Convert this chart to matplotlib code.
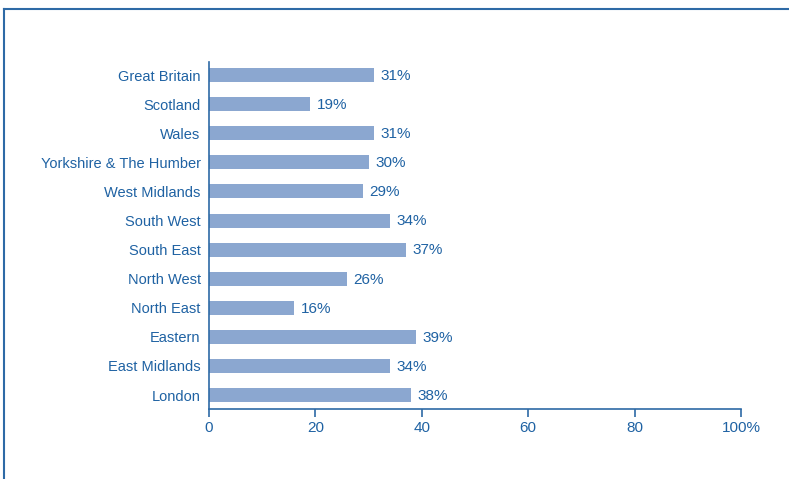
import matplotlib
matplotlib.use('Agg')
from matplotlib import pyplot as plt
from matplotlib.lines import Line2D

# regions, bottom to top as drawn
regions = ['London', 'East Midlands', 'Eastern', 'North East', 'North West',
           'South East', 'South West', 'West Midlands', 'Yorkshire & The Humber',
           'Wales', 'Scotland', 'Great Britain']
shares = [38, 34, 39, 16, 26, 37, 34, 29, 30, 31, 19, 31]
x_ticks = [0, 20, 40, 60, 80, 100]
x_tick_labels = ['0', '20', '40', '60', '80', '100%']

text_blue = '#1f62a3'
line_blue = '#2e6aa6'
bar_blue = '#8ba7d0'

plt.rcParams['font.family'] = ['Liberation Sans', 'DejaVu Sans']

fig = plt.figure(figsize=(7.89, 4.79), dpi=100)
ax = fig.add_axes([209 / 789, 70 / 479, 532 / 789, 347 / 479])

pos = list(range(len(regions)))
ax.barh(pos, shares, height=0.48, color=bar_blue)
for y, v in zip(pos, shares):
    ax.text(v + 1.2, y - 0.03, f'{v}%', va='center', ha='left', fontsize=11,
            color=text_blue)

ax.set_xlim(0, 100)
ax.set_ylim(-0.48, len(regions) - 1 + 0.45)
ax.set_yticks(pos)
ax.set_yticklabels(regions, fontsize=10.5, color=text_blue)
ax.set_xticks(x_ticks)
ax.set_xticklabels(x_tick_labels, fontsize=11, color=text_blue)
ax.tick_params(axis='y', length=0, pad=6)
ax.tick_params(axis='x', length=6, width=1.2, color=line_blue, pad=3)

for side in ['top', 'right']:
    ax.spines[side].set_visible(False)
for side in ['left', 'bottom']:
    ax.spines[side].set_color(line_blue)
    ax.spines[side].set_linewidth(1.2)

# outer frame along the top and left edges
fig.add_artist(Line2D([4 / 789, 1], [1 - 9 / 479, 1 - 9 / 479],
                      color=line_blue, lw=1.5, transform=fig.transFigure))
fig.add_artist(Line2D([4 / 789, 4 / 789], [0, 1 - 9 / 479],
                      color=line_blue, lw=1.5, transform=fig.transFigure))

fig.savefig('out.png', dpi=100)
